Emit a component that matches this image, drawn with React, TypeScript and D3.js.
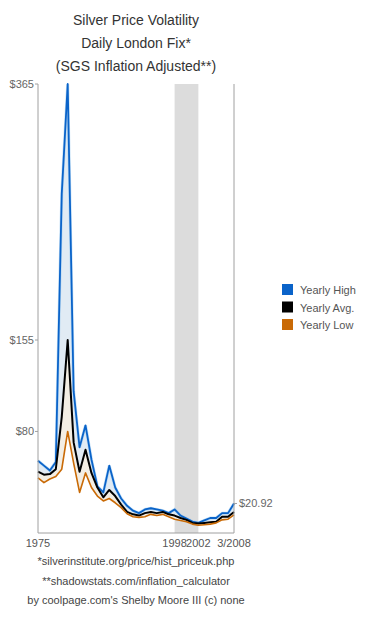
import React from "react";
import * as d3 from "d3";

// yearly silver prices, SGS inflation adjusted (USD/oz)
const years = [
  1975, 1976, 1977, 1978, 1979, 1980, 1981, 1982, 1983, 1984, 1985, 1986,
  1987, 1988, 1989, 1990, 1991, 1992, 1993, 1994, 1995, 1996, 1997, 1998,
  1999, 2000, 2001, 2002, 2003, 2004, 2005, 2006, 2007, 2008,
];
const yearlyHigh = [
  56, 52, 48, 55, 275, 365, 113, 67, 85, 57, 35, 30, 52, 34, 25, 19, 15, 13,
  16, 17, 16, 15, 13, 16, 11, 8.5, 6, 5, 7, 9, 9, 13, 13, 20.92,
];
const yearlyAvg = [
  47, 44.5, 45, 49, 92, 155, 71, 47, 65, 46, 34, 26, 32, 27, 20, 14, 12, 11,
  13, 14, 13, 14, 12, 11, 9, 7.5, 5, 4.5, 5, 5.5, 6, 10, 10, 14,
];
const yearlyLow = [
  42, 38, 41, 43, 49, 80, 54, 30, 46, 34, 27, 23, 25, 21.5, 17.5, 12.5, 10,
  9.5, 10, 12, 11, 12, 10, 8, 7, 6, 4, 3, 3.5, 4, 5, 7.5, 8, 11.5,
];

const leftTicks = [365, 155, 80];
const leftTickLabels = ["$365", "$155", "$80"];
const rightTicks = [20.92];
const rightTickLabels = ["$20.92"];
const xTicks = [1975, 1998, 2002, 2008];
const xTickLabels = ["1975", "1998", "2002", "3/2008"];
const band = [1998, 2002];

const titleLines = [
  "Silver Price Volatility",
  "Daily London Fix*",
  "(SGS Inflation Adjusted**)",
];
const footLines = [
  "*silverinstitute.org/price/hist_priceuk.php",
  "**shadowstats.com/inflation_calculator",
  "by coolpage.com's Shelby Moore III (c) none",
];

const seriesNames = ["Yearly High", "Yearly Avg.", "Yearly Low"];
const seriesColors = ["#0a63c9", "#000000", "#c96a06"];

const App = () => {
  const left = 38;
  const right = 234;
  const top = 84;
  const bottom = 533;

  const x = d3.scaleLinear().domain([1975, 2008]).range([left, right]);
  const y = d3.scaleLinear().domain([-3.3, 365]).range([bottom, top]);

  const pts = years.map((yr, i) => ({
    yr,
    hi: yearlyHigh[i],
    avg: yearlyAvg[i],
    lo: yearlyLow[i],
  }));

  const line = (key) =>
    d3
      .line()
      .x((d) => x(d.yr))
      .y((d) => y(d[key]))(pts);

  const areaHiAvg = d3
    .area()
    .x((d) => x(d.yr))
    .y0((d) => y(d.avg))
    .y1((d) => y(d.hi))(pts);
  const areaAvgLo = d3
    .area()
    .x((d) => x(d.yr))
    .y0((d) => y(d.lo))
    .y1((d) => y(d.avg))(pts);

  const cx = (left + right) / 2;
  const font = "'Liberation Sans', Arial, Helvetica, sans-serif";

  return (
    <svg
      width={370}
      height={620}
      style={{ position: "absolute", left: 0, top: 0, fontFamily: font }}
    >
      <rect width={370} height={620} fill="#fff" />

      {/* Title */}
      {titleLines.map((t, i) => (
        <text
          key={i}
          x={cx}
          y={25 + i * 23}
          textAnchor="middle"
          style={{ fontSize: "14px", fill: "#333" }}
        >
          {t}
        </text>
      ))}

      {/* Shaded band 1998-2002 */}
      <rect
        x={x(band[0])}
        y={top}
        width={x(band[1]) - x(band[0])}
        height={bottom - top}
        fill="#dcdcdc"
      />

      {/* Fills between series */}
      <path d={areaHiAvg} fill="#e1ebf4" />
      <path d={areaAvgLo} fill="#f3eee4" />

      {/* Lines */}
      <path d={line("hi")} fill="none" stroke="#8cc4f0" strokeWidth={3} opacity={0.5} />
      <path d={line("hi")} fill="none" stroke={seriesColors[0]} strokeWidth={1.8} strokeLinejoin="round" />
      <path d={line("avg")} fill="none" stroke={seriesColors[1]} strokeWidth={2} strokeLinejoin="round" />
      <path d={line("lo")} fill="none" stroke={seriesColors[2]} strokeWidth={1.6} strokeLinejoin="round" />

      {/* Frame */}
      <line x1={left} x2={left} y1={top} y2={bottom} stroke="#a0a0a0" />
      <line x1={right} x2={right} y1={top} y2={bottom} stroke="#a0a0a0" />
      <line x1={left} x2={right} y1={bottom} y2={bottom} stroke="#a0a0a0" />

      {/* Left ticks */}
      {leftTicks.map((v, i) => (
        <g key={i} transform={`translate(${left}, ${y(v)})`}>
          <line x1={-3} x2={0} stroke="#a0a0a0" />
          <text
            x={-4}
            y={4}
            textAnchor="end"
            style={{ fontSize: "11px", fill: "#666" }}
          >
            {leftTickLabels[i]}
          </text>
        </g>
      ))}

      {/* Right ticks */}
      {rightTicks.map((v, i) => (
        <g key={i} transform={`translate(${right}, ${y(v)})`}>
          <line x1={0} x2={3} stroke="#a0a0a0" />
          <text x={5} y={4} style={{ fontSize: "11px", fill: "#666" }}>
            {rightTickLabels[i]}
          </text>
        </g>
      ))}

      {/* X labels */}
      {xTicks.map((v, i) => (
        <text
          key={i}
          x={x(v)}
          y={bottom + 14}
          textAnchor="middle"
          style={{ fontSize: "11px", fill: "#555" }}
        >
          {xTickLabels[i]}
        </text>
      ))}

      {/* Footnotes */}
      {footLines.map((t, i) => (
        <text
          key={i}
          x={cx}
          y={565 + i * 19.5}
          textAnchor="middle"
          style={{ fontSize: "11px", fill: "#444" }}
        >
          {t}
        </text>
      ))}

      {/* Legend */}
      {seriesNames.map((n, i) => (
        <g key={i} transform={`translate(282, ${284 + i * 17.5})`}>
          <rect width={11} height={11} fill={seriesColors[i]} />
          <text x={18} y={10} style={{ fontSize: "11px", fill: "#555" }}>
            {n}
          </text>
        </g>
      ))}
    </svg>
  );
};

export default App;
